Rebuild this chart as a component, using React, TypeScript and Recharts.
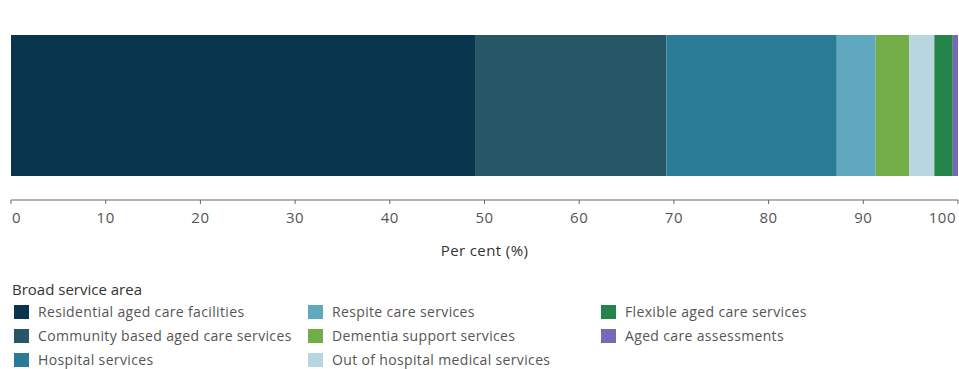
import React from 'react';
import { BarChart, Bar, XAxis, YAxis } from 'recharts';

const seriesNames = [
  'Residential aged care facilities',
  'Community based aged care services',
  'Hospital services',
  'Respite care services',
  'Dementia support services',
  'Out of hospital medical services',
  'Flexible aged care services',
  'Aged care assessments',
];
const seriesValues = [49.0, 20.2, 18.0, 4.1, 3.55, 2.65, 1.95, 0.55];
const seriesColors = ['#0a364d', '#275766', '#2a7b95', '#60a8bf', '#73ad48', '#b8d6df', '#24844a', '#7a67b6'];
const xTicks = [0, 10, 20, 30, 40, 50, 60, 70, 80, 90, 100];
const categories = ['Total'];

const row: Record<string, any> = { name: categories[0] };
seriesNames.forEach((n, i) => { row['s' + i] = seriesValues[i]; });
const data = [row];

const FONT = '"Open Sans", sans-serif';

const Tick = (props: any) => {
  const { x, y, payload } = props;
  const v = payload.value;
  const anchor = v === xTicks[0] ? 'start' : v === xTicks[xTicks.length - 1] ? 'end' : 'middle';
  const dx = v === xTicks[0] ? 1 : v === xTicks[xTicks.length - 1] ? -2 : 0;
  return (
    <text x={x + dx} y={y} dy="0.71em" textAnchor={anchor} fill="#555" fontSize={15} letterSpacing={0.5} fontFamily={FONT}>
      {v}
    </text>
  );
};

export default function App() {
  const colX = [14, 308, 601];
  const rowY = [304, 328, 352];
  return (
    <div style={{ position: 'absolute', left: 0, top: 0, width: 959, height: 369, background: '#fff', fontFamily: FONT }}>
      <BarChart width={959} height={262} data={data} layout="vertical" margin={{ top: 11, right: 1, bottom: 2, left: 11 }}>
        <XAxis
          type="number"
          domain={[0, 100]}
          ticks={xTicks}
          interval={0}
          tickSize={4}
          tickMargin={8}
          stroke="#666"
          tick={<Tick />}
          height={60}
          label={{ value: 'Per cent (%)', position: 'insideBottom', offset: 4, fill: '#333', fontSize: 15, letterSpacing: 0.4, fontFamily: FONT }}
        />
        <YAxis type="category" dataKey="name" width={0} tick={false} tickLine={false} stroke="#555" />
        {seriesNames.map((n, i) => (
          <Bar key={n} dataKey={'s' + i} name={n} stackId="a" fill={seriesColors[i]} barSize={141} isAnimationActive={false} />
        ))}
      </BarChart>
      <div style={{ position: 'absolute', left: 12, top: 279, fontSize: 15, letterSpacing: 0, color: '#333' }}>Broad service area</div>
      {seriesNames.map((n, i) => {
        const c = Math.floor(i / 3);
        const r = i % 3;
        return (
          <div key={n} style={{ position: 'absolute', left: colX[c], top: rowY[r], height: 15, display: 'flex', alignItems: 'center' }}>
            <div style={{ width: 15, height: 14, background: seriesColors[i], marginRight: 9 }} />
            <span style={{ fontSize: 14, letterSpacing: 0.35, color: '#555', whiteSpace: 'nowrap' }}>{n}</span>
          </div>
        );
      })}
    </div>
  );
}
